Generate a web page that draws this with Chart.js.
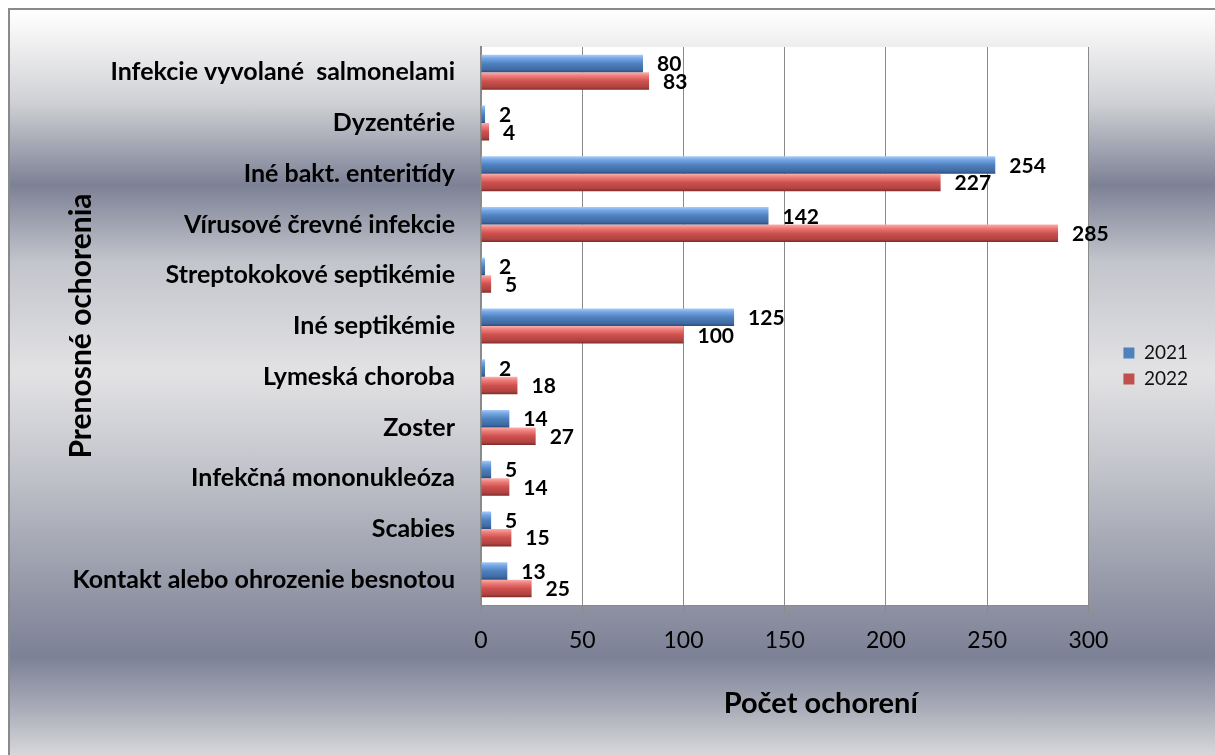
<!DOCTYPE html>
<html>
<head>
<meta charset="utf-8">
<script src="https://cdn.jsdelivr.net/npm/chart.js@4.4.1/dist/chart.umd.min.js"></script>
<style>
  html, body { margin: 0; padding: 0; background: #fff; }
  #frame {
    position: absolute; left: 8px; top: 8px; width: 1215px; height: 755px;
    border-left: 2px solid #8a8a8a; border-top: 2px solid #8a8a8a;
    background: linear-gradient(to bottom, #ffffff 0px, #f0f0f1 32px, #d0d1d5 92px, #7d8195 175px,
      #c3c5cc 252px, #e2e2e4 362px, #c9cad0 442px, #8f93a3 592px, #7c8196 647px, #a3a6b3 692px, #d9d9dc 747px);
  }
  #chart { position: absolute; left: 0; top: 0; }
</style>
</head>
<body>
<div id="frame"></div>
<canvas id="chart" width="1215" height="755"></canvas>
<script>
// Data
const categories = [
    'Infekcie vyvolané  salmonelami',
    'Dyzentérie',
    'Iné bakt. enteritídy',
    'Vírusové črevné infekcie',
    'Streptokokové septikémie',
    'Iné septikémie',
    'Lymeská choroba',
    'Zoster',
    'Infekčná mononukleóza',
    'Scabies',
    'Kontakt alebo ohrozenie besnotou'
];
const cases2021 = [80, 2, 254, 142, 2, 125, 2, 14, 5, 5, 13];
const cases2022 = [83, 4, 227, 285, 5, 100, 18, 27, 14, 15, 25];
const xTicks = [0, 50, 100, 150, 200, 250, 300];

const CAT_PCT = 0.69;
const FONT = 'Lato, Carlito, Calibri, sans-serif';
const PAD_LEFT = 63;

// vertical gradient per bar, so each bar looks like a small cylinder
function barFill(stops, solid) {
    return ctx => {
        const chart = ctx.chart;
        const y = chart.scales && chart.scales.y;
        if (ctx.type !== 'data' || !y || !y.height) return solid;
        const thick = (y.height / categories.length) * CAT_PCT / 2;
        const center = y.getPixelForValue(ctx.dataIndex);
        const y0 = ctx.datasetIndex === 0 ? center - thick : center;
        const g = chart.ctx.createLinearGradient(0, y0, 0, y0 + thick);
        stops.forEach(s => g.addColorStop(s[0], s[1]));
        return g;
    };
}

const blueStops = [[0, '#a7cbf7'], [0.2, '#74a5e6'], [0.5, '#4f81bd'], [0.85, '#3e6aa3'], [1, '#2b4d7a']];
const redStops = [[0, '#fbb0ae'], [0.2, '#ee7d7a'], [0.5, '#cf514e'], [0.85, '#ad4240'], [1, '#7c2c2a']];
const solidColors = ['#4f81bd', '#c0504d'];

// white plot area
const plotBackground = {
    id: 'plotBackground',
    beforeDraw(chart) {
        const a = chart.chartArea;
        const c = chart.ctx;
        c.save();
        c.fillStyle = '#ffffff';
        c.fillRect(a.left, a.top, a.right - a.left, a.bottom - a.top);
        c.restore();
    }
};

// value labels at the end of each bar
const valueLabels = {
    id: 'valueLabels',
    afterDatasetsDraw(chart) {
        const c = chart.ctx;
        c.save();
        c.font = 'bold 21px ' + FONT;
        c.fillStyle = '#000';
        c.textAlign = 'left';
        c.textBaseline = 'middle';
        chart.data.datasets.forEach((ds, i) => {
            chart.getDatasetMeta(i).data.forEach((bar, j) => {
                c.fillText(String(ds.data[j]), bar.x + 14, bar.y + 1);
            });
        });
        c.restore();
    }
};

// x axis title sits a little right of the plot centre in the original
const xTitle = {
    id: 'xTitle',
    afterDraw(chart) {
        const a = chart.chartArea;
        const c = chart.ctx;
        c.save();
        c.font = 'bold 29px ' + FONT;
        c.fillStyle = '#000';
        c.textAlign = 'center';
        c.textBaseline = 'middle';
        c.fillText('Počet ochorení', (a.left + a.right) / 2 + 36, 704);
        c.restore();
    }
};

// move the legend to where the original has it
const legendShift = {
    id: 'legendShift',
    afterLayout(chart) {
        const l = chart.legend;
        l.left += 28; l.right += 28;
        l.top -= 35; l.bottom -= 35;
    }
};

new Chart(document.getElementById('chart'), {
    type: 'bar',
    data: {
        labels: categories,
        datasets: [
            { label: '2021', data: cases2021, backgroundColor: barFill(blueStops, solidColors[0]) },
            { label: '2022', data: cases2022, backgroundColor: barFill(redStops, solidColors[1]) }
        ]
    },
    options: {
        indexAxis: 'y',
        responsive: false,
        animation: false,
        devicePixelRatio: 1,
        categoryPercentage: CAT_PCT,
        barPercentage: 1,
        layout: { padding: { left: PAD_LEFT, top: 47, right: 45, bottom: 0 } },
        plugins: {
            tooltip: { enabled: false },
            legend: {
                position: 'right',
                labels: {
                    boxWidth: 11,
                    boxHeight: 11,
                    padding: 7,
                    color: '#111',
                    font: { family: FONT, size: 19 },
                    generateLabels: chart => Chart.defaults.plugins.legend.labels.generateLabels(chart)
                        .map(item => Object.assign(item, {
                            fillStyle: solidColors[item.datasetIndex],
                            strokeStyle: solidColors[item.datasetIndex],
                            lineWidth: 0
                        }))
                }
            }
        },
        scales: {
            x: {
                min: 0,
                max: 300,
                afterBuildTicks: scale => { scale.ticks = xTicks.map(v => ({ value: v })); },
                afterFit: scale => { scale.height = 150; },
                grid: { color: '#8a8a8a', lineWidth: 1, tickLength: 8, drawTicks: true },
                border: { color: '#8a8a8a', width: 1 },
                ticks: { color: '#000', padding: 14, font: { family: FONT, size: 23 } }
            },
            y: {
                afterFit: scale => { scale.width = 481 - PAD_LEFT; },
                grid: { display: false, drawTicks: false },
                border: { color: '#8a8a8a', width: 2 },
                ticks: { color: '#000', padding: 26, autoSkip: false, font: { family: FONT, size: 25, weight: 'bold' } },
                title: {
                    display: true,
                    text: 'Prenosné ochorenia',
                    color: '#000',
                    padding: 0,
                    font: { family: FONT, size: 30, weight: 'bold' }
                }
            }
        }
    },
    plugins: [plotBackground, valueLabels, xTitle, legendShift]
});
</script>
</body>
</html>
